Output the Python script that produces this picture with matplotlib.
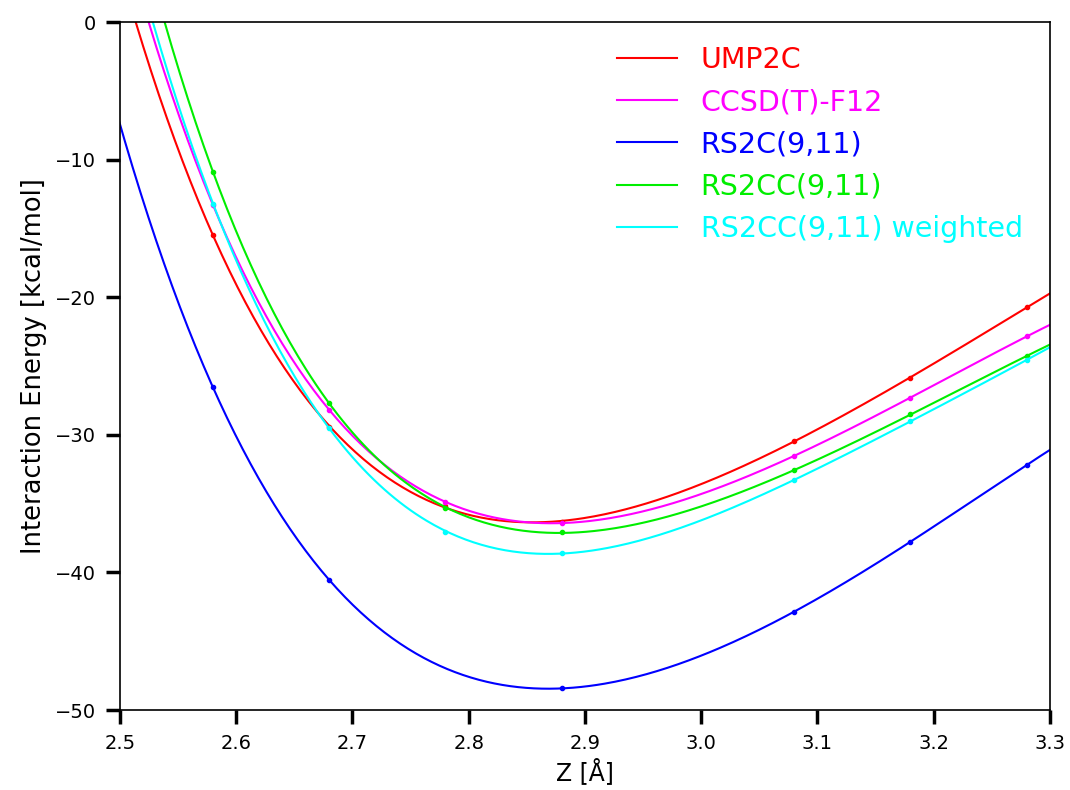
import numpy as np
import matplotlib
matplotlib.use("Agg")
import matplotlib.pyplot as plt

# separations (Angstrom) and interaction energies (kcal/mol)
z = [2.58, 2.68, 2.78, 2.88, 3.08, 3.18, 3.28]
z_rs2c = [2.58, 2.68, 2.88, 3.08, 3.18, 3.28]

ump2c = [-15.5, -29.4, -35.2, -36.34, -30.43, -25.85, -20.74]
ccsdt_f12 = [-13.3, -28.2, -34.86, -36.43, -31.52, -27.3, -22.85]
rs2c = [-26.56, -40.55, -48.43, -42.85, -37.77, -32.19]
rs2cc = [-10.9, -27.7, -35.3, -37.1, -32.58, -28.52, -24.27]
rs2cc_w = [-13.2, -29.5, -37.06, -38.57, -33.31, -29.0, -24.56]

series = [
    ("UMP2C", z, ump2c, "#ff0000"),
    ("CCSD(T)-F12", z, ccsdt_f12, "#ff00ff"),
    ("RS2C(9,11)", z_rs2c, rs2c, "#0000ff"),
    ("RS2CC(9,11)", z, rs2cc, "#00ee00"),
    ("RS2CC(9,11) weighted", z, rs2cc_w, "#00ffff"),
]

fig = plt.figure(figsize=(10.7, 7.9), dpi=100)
ax = fig.add_axes([120 / 1070, 80 / 790, 930 / 1070, 688 / 790])

zz = np.linspace(2.45, 3.35, 400)
for name, x, y, c in series:
    # smooth curve through the points (polynomial fit)
    p = np.polyfit(x, y, 5)
    ax.plot(zz, np.polyval(p, zz), color=c, lw=1.5, label=name)
    ax.plot(x, y, "o", color=c, ms=3)

ax.set_xlim(2.5, 3.3)
ax.set_ylim(-50, 0)
ax.set_xticks(np.arange(2.5, 3.31, 0.1))
ax.set_xticklabels(["%.1f" % t for t in np.arange(2.5, 3.31, 0.1)])
ax.set_yticks([0, -10, -20, -30, -40, -50])
ax.tick_params(axis="both", which="major", labelsize=14, length=10,
               width=2.5, pad=7)
for s in ax.spines.values():
    s.set_linewidth(1.2)
ax.set_xlabel("Z [Å]", fontsize=17, labelpad=4)
ax.set_ylabel("Interaction Energy [kcal/mol]", fontsize=18.5, labelpad=6)

leg = ax.legend(loc="upper right", frameon=False, fontsize=20.5,
                handlelength=2.1, handletextpad=0.84, labelspacing=0.5,
                borderaxespad=0, bbox_to_anchor=(0.983, 0.982))
for t, l in zip(leg.get_texts(), leg.get_lines()):
    t.set_color(l.get_color())

fig.savefig("out.png", dpi=100)
